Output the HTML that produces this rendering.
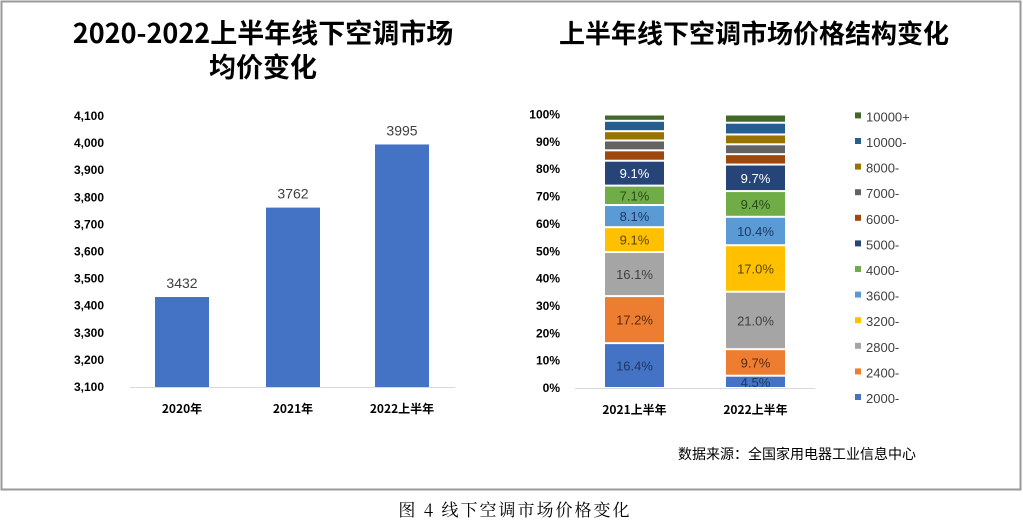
<!DOCTYPE html>
<html><head><meta charset="utf-8"><style>
body{margin:0;width:1023px;height:523px;background:#fff;overflow:hidden}
svg{display:block;font-family:"Liberation Sans","Noto Sans CJK SC",sans-serif}
</style></head><body>
<svg id="s" width="1023" height="523" viewBox="0 0 1023 523">
<rect x="1.5" y="1.5" width="1019" height="488" fill="#fff" stroke="#9a9a9a" stroke-width="2"/>
<text x="263" y="43" font-size="27" font-weight="bold" text-anchor="middle" font-family="'Noto Sans CJK SC',sans-serif">2020-2022上半年线下空调市场</text>
<text x="263" y="77" font-size="27" font-weight="bold" text-anchor="middle" font-family="'Noto Sans CJK SC',sans-serif">均价变化</text>
<text x="754" y="43" font-size="26" font-weight="bold" text-anchor="middle" font-family="'Noto Sans CJK SC',sans-serif">上半年线下空调市场价格结构变化</text>
<text x="797" y="459" font-size="14" text-anchor="middle" font-family="'Noto Sans CJK SC',sans-serif">数据来源：全国家用电器工业信息中心</text>
<text x="515" y="516" font-size="17" letter-spacing="2" text-anchor="middle" font-family="'Noto Serif CJK SC',serif">图 4  线下空调市场价格变化</text>
<g id="g"></g>
</svg>
<script>
var g=document.getElementById('g'),h='';
function T(x,y,t,o){h+='<text x="'+x+'" y="'+y+'" '+(o||'')+'>'+t+'</text>';}
function R(x,y,w,hh,c){h+='<rect x="'+x+'" y="'+y+'" width="'+w+'" height="'+hh+'" fill="'+c+'"/>';}
for(var i=0;i<=10;i++){var v=3100+i*100,y=387-i*27.1;T(104,y+4,(v+'').replace(/^(\d)/,'$1,'),'font-size="12" font-weight="bold" text-anchor="end"');}
h+='<line x1="130" y1="387.5" x2="455" y2="387.5" stroke="#d9d9d9"/>';
var L=[[155,3432,'2020年'],[266,3762,'2021年'],[375,3995,'2022上半年']];
L.forEach(function(d){var y=387-(d[1]-3100)*0.271;R(d[0],y,54,387-y,'#4472c4');T(d[0]+27,y-9,d[1],'font-size="14" text-anchor="middle" fill="#404040"');T(d[0]+27,413,d[2],'font-size="12" font-weight="bold" text-anchor="middle" font-family="\'Noto Sans CJK SC\',sans-serif"');});
for(var i=0;i<=10;i++){var y=388-i*27.35;T(560,y+4,(i*10)+'%','font-size="12" font-weight="bold" text-anchor="end"');}
h+='<line x1="575" y1="388.5" x2="815" y2="388.5" stroke="#d9d9d9"/>';
var C=['#4472c4','#ed7d31','#a5a5a5','#ffc000','#5b9bd5','#70ad47','#264478','#9e480e','#636363','#997300','#255e91','#43682b'];
var N=['2000-','2400-','2800-','3200-','3600-','4000-','5000-','6000-','7000-','8000-','10000-','10000+'];
var TC=['#1f3864','#5a2a10','#404040','#5a4500','#1f3864','#2a4a1a','#fff'];
var B=[[605,[16.4,17.2,16.1,9.1,8.1,7.1,9.1,3.8,3.6,3.4,3.8,2.3],'2021上半年'],[726,[4.5,9.7,21.0,17.0,10.4,9.4,9.7,3.8,3.6,3.6,4.3,3.0],'2022上半年']];
B.forEach(function(b){var acc=0;b[1].forEach(function(v,k){var y1=388-acc*2.735,y2=388-(acc+v)*2.735;acc+=v;R(b[0],y2+1,59,y1-y2-2,C[k]);if(k<7)T(b[0]+29.5,(y1+y2)/2+5,v.toFixed(1)+'%','font-size="13" text-anchor="middle" fill="'+TC[k]+'"');});T(b[0]+29.5,414,b[2],'font-size="12" font-weight="bold" text-anchor="middle" font-family="\'Noto Sans CJK SC\',sans-serif"');});
for(var k=0;k<12;k++){var y=398-k*25.6;R(855,y-4,6,6,C[k]);T(866,y+5,N[k],'font-size="13" fill="#404040"');}
g.innerHTML=h;
</script>
</body></html>
